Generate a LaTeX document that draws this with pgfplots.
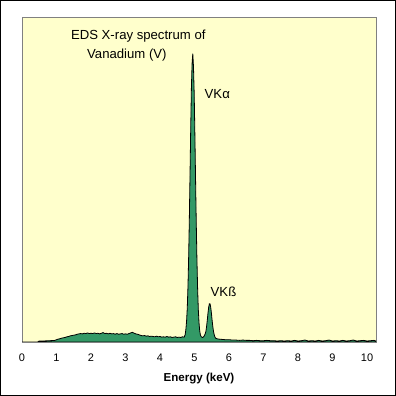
\documentclass[border=0pt]{standalone}
\usepackage{pgfplots}
\pgfplotsset{compat=1.18}
\usepackage{fontspec}
\setmainfont{Liberation Sans}
\definecolor{bgyellow}{HTML}{FFFFCC}
\definecolor{fillgreen}{HTML}{339966}
\definecolor{framegray}{HTML}{808080}
\begin{document}
\begin{tikzpicture}
\useasboundingbox (0,0) rectangle (396bp,396bp);
\fill[white] (0,0) rectangle (396bp,396bp);
\draw[black, line width=1bp] (0.5bp,0.5bp) rectangle (395.5bp,395.5bp);
\begin{axis}[
 at={(22bp,54bp)}, anchor=south west,
 scale only axis, width=354bp, height=324bp,
 xmin=0, xmax=10.26, ymin=0, ymax=100,
 axis background/.style={fill=bgyellow},
 axis line style={framegray, line width=1bp},
 xtick={0,1,2,3,4,5,6,7,8,9,10}, ytick=\empty,
 major tick length=0pt,
 tick label style={font=\fontsize{11}{13}\selectfont},
 /pgf/number format/assume math mode=true,
 xticklabel style={yshift=-8.5bp},
 xlabel={Energy (keV)},
 xlabel style={font=\fontsize{11.6}{13}\selectfont\bfseries, at={(axis description cs:0.5,0)}, anchor=center, yshift=-37bp},
]
\addplot[fill=fillgreen, draw=black, line width=0.8bp] coordinates {
(0,0) (0.45,0) (0.5,0.3) (0.6,0.3) (0.7,0.35) (0.8,0.4) (0.9,0.45) (0.95,0.5)
(1.0,0.7) (1.05,0.9) (1.1,1.0) (1.15,1.2) (1.2,1.3) (1.25,1.4) (1.3,1.6) (1.35,1.7)
(1.4,1.9) (1.45,2.0) (1.5,2.1) (1.55,2.2) (1.6,2.4) (1.65,2.5) (1.7,2.6) (1.75,2.5)
(1.8,2.7) (1.85,2.6) (1.9,2.8) (1.95,2.6) (2.0,2.7) (2.05,2.6) (2.1,2.8) (2.15,2.6)
(2.2,2.7) (2.25,2.5) (2.3,2.7) (2.35,2.9) (2.4,2.6) (2.45,2.7) (2.5,2.5) (2.55,2.7)
(2.6,2.5) (2.65,2.6) (2.7,2.4) (2.75,2.6) (2.8,2.4) (2.85,2.5) (2.9,2.6) (2.95,2.4)
(3.0,2.5) (3.05,2.4) (3.1,2.6) (3.15,2.8) (3.2,3.0) (3.25,2.7) (3.3,2.5) (3.35,2.4)
(3.4,2.2) (3.45,2.0) (3.5,1.9) (3.55,2.0) (3.6,1.8) (3.65,1.9) (3.7,1.7) (3.75,1.8)
(3.8,1.7) (3.85,1.6) (3.9,1.8) (3.95,1.6) (4.0,1.7) (4.05,1.5) (4.1,1.6) (4.15,1.5)
(4.2,1.7) (4.25,1.5) (4.3,1.6) (4.35,1.4) (4.4,1.5) (4.45,1.6) (4.5,1.4) (4.55,1.5)
(4.6,1.4) (4.65,1.6) (4.7,1.5) (4.73,2.3) (4.75,3.9) (4.77,6.4) (4.79,10.5) (4.81,17)
(4.83,26.1) (4.85,38) (4.87,51.8) (4.89,66) (4.91,78.6) (4.93,86) (4.95,89) (4.97,85)
(4.99,77) (5.01,64.5) (5.03,50.5) (5.05,37) (5.07,25.5) (5.09,16.5) (5.11,10) (5.13,6)
(5.15,3.5) (5.17,2.2) (5.19,1.7) (5.21,1.5) (5.23,1.4) (5.25,1.5) (5.27,1.7) (5.29,2.1)
(5.31,2.5) (5.33,3.3) (5.35,4.8) (5.37,6.7) (5.39,8.9) (5.41,10.7) (5.43,11.8) (5.45,11.8)
(5.47,10.7) (5.49,8.9) (5.51,6.7) (5.53,4.8) (5.55,3.3) (5.57,2.3) (5.59,1.6) (5.61,1.2)
(5.65,1.0) (5.7,0.9) (5.8,0.8) (5.9,0.7) (6.0,0.7) (6.1,0.6) (6.2,0.6) (6.3,0.5)
(6.4,0.6) (6.5,0.5) (6.6,0.5) (6.7,0.4) (6.8,0.5) (6.9,0.4) (7.0,0.4) (7.1,0.5)
(7.2,0.4) (7.3,0.4) (7.4,0.3) (7.5,0.4) (7.6,0.3) (7.7,0.4) (7.8,0.3) (7.9,0.5)
(8.0,0.3) (8.1,0.4) (8.2,0.6) (8.3,0.3) (8.4,0.4) (8.5,0.3) (8.6,0.5) (8.7,0.3)
(8.8,0.4) (8.9,0.6) (9.0,0.3) (9.1,0.4) (9.2,0.3) (9.3,0.5) (9.4,0.3) (9.5,0.4)
(9.6,0.6) (9.7,0.3) (9.8,0.4) (9.9,0.5) (10.0,0.3) (10.1,0.4) (10.2,0.5) (10.26,0.3)
} \closedcycle;
\draw[black, line width=1bp] (rel axis cs:0,0) -- (rel axis cs:1,0);
\node[font=\fontsize{13.2}{15}\selectfont] at (axis cs:3.37,94.4) {EDS X-ray spectrum of};
\node[font=\fontsize{13.2}{15}\selectfont] at (axis cs:3.04,88.6) {Vanadium (V)};
\node[font=\fontsize{13.2}{15}\selectfont] at (axis cs:5.66,76.6) {VKα};
\node[font=\fontsize{13.2}{15}\selectfont] at (axis cs:5.84,15.5) {VKß};
\end{axis}
\end{tikzpicture}
\end{document}
